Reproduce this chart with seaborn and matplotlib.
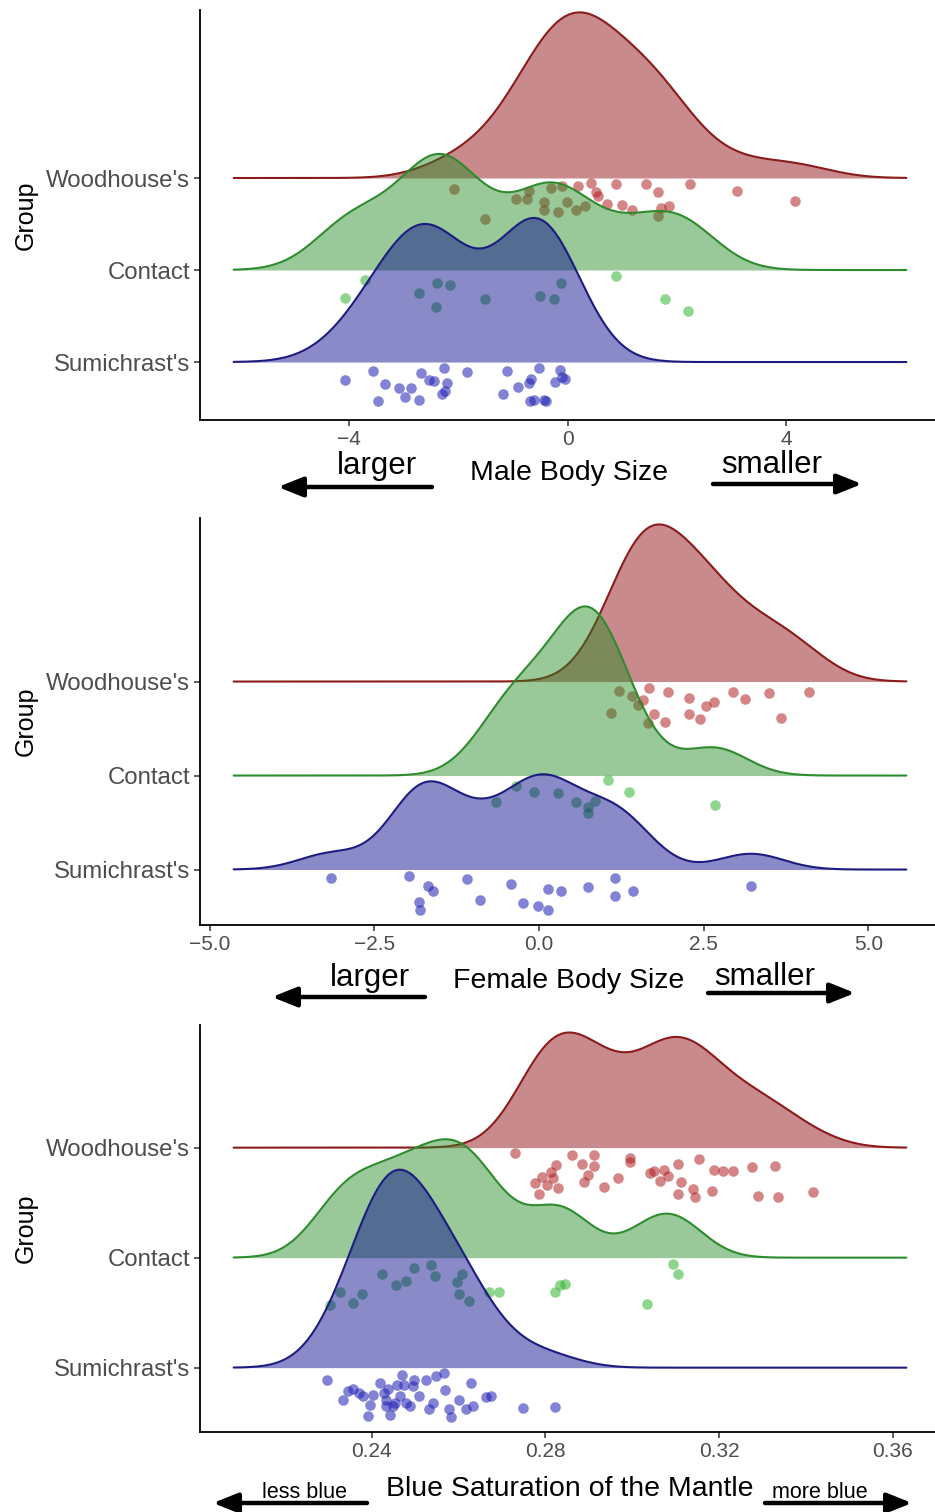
import numpy as np
import pandas as pd
import seaborn as sns
import matplotlib.pyplot as plt
from matplotlib.transforms import Affine2D
from matplotlib.patches import FancyArrowPatch

# groups, bottom to top
groups = ["Sumichrast's", "Contact", "Woodhouse's"]

# ---- panel 1: male body size (x = value, d = jitter depth below ridge) ----
male_wood_x = [-2.09, -1.51, -0.94, -0.71, -0.75, -0.43, -0.43, -0.30, -0.10, -0.18, -0.02, 0.15, 0.19, 0.31,
               0.43, 0.51, 0.55, 0.72, 0.88, 1.00, 1.17, 1.44, 1.66, 1.70, 1.86, 1.66, 2.23, 3.09, 4.17]
male_wood_d = [0.12, 0.45, 0.23, 0.14, 0.23, 0.26, 0.35, 0.11, 0.09, 0.37, 0.26, 0.35, 0.09, 0.30,
               0.05, 0.15, 0.20, 0.28, 0.07, 0.29, 0.35, 0.07, 0.15, 0.33, 0.30, 0.41, 0.06, 0.14, 0.25]
male_cont_x = [-3.72, -4.09, -2.73, -2.39, -2.16, -2.41, -1.52, -0.51, -0.25, -0.13, 0.88, 1.78, 2.20]
male_cont_d = [0.11, 0.30, 0.25, 0.14, 0.16, 0.40, 0.31, 0.28, 0.32, 0.14, 0.07, 0.32, 0.45]
male_sumi_x = [-4.09, -3.57, -3.47, -3.35, -3.09, -2.99, -2.88, -2.73, -2.68, -2.55, -2.45, -2.31, -2.26, -2.21,
               -2.25, -1.85, -1.18, -1.11, -0.92, -0.71, -0.67, -0.53, -0.69, -0.44, -0.24, -0.15, -0.06,
               -0.62, -0.40, -0.10]
male_sumi_d = [0.20, 0.10, 0.42, 0.24, 0.28, 0.38, 0.28, 0.41, 0.12, 0.19, 0.21, 0.35, 0.07, 0.23,
               0.32, 0.11, 0.35, 0.10, 0.27, 0.23, 0.18, 0.07, 0.42, 0.41, 0.22, 0.09, 0.18,
               0.41, 0.42, 0.16]

# ---- panel 2: female body size ----
fem_wood_x = [1.22, 1.09, 1.41, 1.50, 1.67, 1.58, 1.65, 1.74, 1.92, 1.96, 2.27, 2.27, 2.45, 2.53, 2.65,
              2.94, 3.13, 3.50, 3.68, 4.10]
fem_wood_d = [0.10, 0.33, 0.15, 0.25, 0.07, 0.20, 0.44, 0.34, 0.43, 0.11, 0.18, 0.34, 0.40, 0.26, 0.22,
              0.11, 0.19, 0.12, 0.39, 0.11]
fem_cont_x = [-0.35, -0.66, -0.08, 0.29, 0.56, 0.75, 0.75, 0.85, 1.04, 1.36, 2.67]
fem_cont_d = [0.11, 0.28, 0.17, 0.19, 0.28, 0.33, 0.40, 0.27, 0.05, 0.17, 0.31]
fem_sumi_x = [-3.16, -1.97, -1.68, -1.61, -1.83, -1.81, -1.09, -0.90, -0.42, -0.24, -0.02, 0.14, 0.14, 0.34,
              0.75, 1.16, 1.16, 1.42, 3.22]
fem_sumi_d = [0.09, 0.07, 0.18, 0.23, 0.34, 0.43, 0.10, 0.32, 0.15, 0.36, 0.39, 0.43, 0.21, 0.23,
              0.19, 0.09, 0.28, 0.23, 0.18]

# ---- panel 3: blue saturation of the mantle ----
blue_wood_x = [0.2731, 0.2777, 0.2785, 0.2793, 0.2803, 0.2813, 0.2824, 0.2829, 0.2818, 0.2862, 0.2883, 0.2897,
               0.2888, 0.2911, 0.2911, 0.2935, 0.2967, 0.2995, 0.2995, 0.3040, 0.3050, 0.3063, 0.3073, 0.3081,
               0.3104, 0.3104, 0.3111, 0.3139, 0.3145, 0.3153, 0.3183, 0.3189, 0.3209, 0.3232, 0.3276, 0.3289,
               0.3329, 0.3335, 0.3417]
blue_wood_d = [0.05, 0.32, 0.42, 0.27, 0.34, 0.22, 0.16, 0.37, 0.28, 0.07, 0.15, 0.25,
               0.31, 0.07, 0.17, 0.36, 0.28, 0.09, 0.13, 0.23, 0.21, 0.30, 0.20, 0.26,
               0.15, 0.42, 0.31, 0.38, 0.45, 0.10, 0.39, 0.20, 0.21, 0.21, 0.18, 0.44,
               0.17, 0.45, 0.40]
blue_cont_x = [0.2304, 0.2327, 0.2356, 0.2378, 0.2423, 0.2455, 0.2479, 0.2498, 0.2536, 0.2546, 0.2597,
               0.2608, 0.2602, 0.2623, 0.2669, 0.2693, 0.2821, 0.2834, 0.2844, 0.3034, 0.3094, 0.3104]
blue_cont_d = [0.43, 0.31, 0.41, 0.33, 0.15, 0.25, 0.21, 0.09, 0.07, 0.17, 0.22,
               0.15, 0.33, 0.39, 0.31, 0.31, 0.31, 0.25, 0.24, 0.42, 0.06, 0.15]
blue_sumi_x = [0.2296, 0.2335, 0.2356, 0.2371, 0.2392, 0.2397, 0.2402, 0.2418, 0.2428, 0.2433, 0.2443, 0.2438,
               0.2453, 0.2464, 0.2469, 0.2474, 0.2489, 0.2495, 0.2498, 0.2510, 0.2525, 0.2533, 0.2541, 0.2549,
               0.2567, 0.2569, 0.2577, 0.2582, 0.2602, 0.2618, 0.2628, 0.2633, 0.2664, 0.2675, 0.2748, 0.2821,
               0.2345, 0.2381, 0.2448, 0.2479, 0.2433, 0.2459]
blue_sumi_d = [0.11, 0.29, 0.19, 0.23, 0.44, 0.34, 0.25, 0.14, 0.23, 0.35, 0.43, 0.19,
               0.32, 0.26, 0.07, 0.16, 0.35, 0.17, 0.11, 0.26, 0.11, 0.38, 0.32, 0.08,
               0.05, 0.20, 0.38, 0.45, 0.29, 0.38, 0.14, 0.35, 0.27, 0.26, 0.37, 0.36,
               0.21, 0.26, 0.35, 0.32, 0.29, 0.16]

# colours
line_col = {"Woodhouse's": "#8b1a1a", "Contact": "#2e8b2e", "Sumichrast's": "#1c1c80"}
fill_col = {"Woodhouse's": "#8b0008", "Contact": "#228b22", "Sumichrast's": "#00008b"}
pt_col = {"Woodhouse's": "#b22222", "Contact": "#32b432", "Sumichrast's": "#1e1eb4"}

sns.set_theme(style="ticks")
plt.rcParams['font.family'] = ['Liberation Sans', 'DejaVu Sans']

W, H = 935, 1512
fig = plt.figure(figsize=(W / 100, H / 100), dpi=100)


def px(x, y):
    # pixel (top-left origin) -> figure fraction
    return x / W, 1 - y / H


def ridge_panel(ax, data, bw, scale=1.8):
    allx = np.concatenate([data[g][0] for g in groups])
    lo, hi = allx.min() - 3 * bw, allx.max() + 3 * bw
    parts = {}
    for g in groups[::-1]:
        x = np.asarray(data[g][0])
        f = bw / x.std(ddof=1)
        n0 = len(ax.collections)
        sns.kdeplot(x=x, ax=ax, bw_method=f, cut=20, clip=(lo, hi), fill=True,
                    color=fill_col[g], alpha=0.46, linewidth=0)
        fill = ax.collections[n0]
        sns.kdeplot(x=x, ax=ax, bw_method=f, cut=20, clip=(lo, hi),
                    color=line_col[g], linewidth=1.5)
        parts[g] = (fill, ax.lines[-1])
    peak = max(l.get_ydata().max() for _, l in parts.values())
    k = scale / peak
    for i, g in enumerate(groups[::-1]):
        pos = groups.index(g) + 1
        tr = Affine2D().scale(1, k).translate(0, pos) + ax.transData
        fill, line = parts[g]
        fill.set_transform(tr)
        line.set_transform(tr)
        fill.set_zorder(3 + 3 * i)
        line.set_zorder(3.1 + 3 * i)
        sns.scatterplot(x=data[g][0], y=pos - np.asarray(data[g][1]), ax=ax,
                        color=pt_col[g], alpha=0.55, s=58, linewidth=0, zorder=3.2 + 3 * i)
    span = hi - lo
    ax.set_xlim(lo - 0.05 * span, hi + 0.05 * span)


panels = [
    dict(top=10, bottom=420, ylim=(0.37, 4.826), bw=0.677,
         data={"Woodhouse's": (male_wood_x, male_wood_d), "Contact": (male_cont_x, male_cont_d),
               "Sumichrast's": (male_sumi_x, male_sumi_d)},
         ticks=[-4, 0, 4]),
    dict(top=518, bottom=925, ylim=(0.41, 4.74), bw=0.493,
         data={"Woodhouse's": (fem_wood_x, fem_wood_d), "Contact": (fem_cont_x, fem_cont_d),
               "Sumichrast's": (fem_sumi_x, fem_sumi_d)},
         ticks=[-5, -2.5, 0, 2.5, 5]),
    dict(top=1025, bottom=1432, ylim=(0.415, 4.115), bw=0.00713,
         data={"Woodhouse's": (blue_wood_x, blue_wood_d), "Contact": (blue_cont_x, blue_cont_d),
               "Sumichrast's": (blue_sumi_x, blue_sumi_d)},
         ticks=[0.24, 0.28, 0.32, 0.36]),
]

for p in panels:
    ax = fig.add_axes([200 / W, 1 - p['bottom'] / H, 740 / W, (p['bottom'] - p['top']) / H])
    ax.set_facecolor('white')
    ridge_panel(ax, p['data'], p['bw'])
    ax.set_ylim(*p['ylim'])
    ax.set_xticks(p['ticks'])
    ax.set_yticks([1, 2, 3])
    ax.set_yticklabels(groups)
    ax.set_xlabel("")
    ax.set_ylabel("Group", fontsize=18, color='black')
    ax.yaxis.set_label_coords(-0.219, 0.5)
    sns.despine(ax=ax)
    for s in ['left', 'bottom']:
        ax.spines[s].set_linewidth(1.3)
        ax.spines[s].set_color('black')
    ax.tick_params(axis='x', labelsize=15, length=4, width=1.1, pad=3, colors='#333333', labelcolor='#4d4d4d')
    ax.tick_params(axis='y', labelsize=17.3, length=4, width=1.1, pad=3, colors='#333333', labelcolor='#4d4d4d')

# axis titles with direction arrows
labels = [
    ("Male Body Size", (569, 473), ("larger", (377, 466)), ("smaller", (772, 465)), 22.5,
     ((432, 487), (278, 487)), ((713, 484), (862, 484))),
    ("Female Body Size", (569, 981), ("larger", (370, 978)), ("smaller", (765, 977)), 22.5,
     ((425, 997), (272, 997)), ((708, 993), (855, 993))),
    ("Blue Saturation of the Mantle", (570, 1489), ("less blue", (305, 1493)), ("more blue", (820, 1493)), 15.5,
     ((367, 1503), (213, 1503)), ((765, 1503), (912, 1503))),
]
for title, tpos, (lt, lpos), (rt, rpos), side_fs, larrow, rarrow in labels:
    fig.text(*px(*tpos), title, fontsize=20.5, ha='center', va='center', color='black')
    fig.text(*px(*lpos), lt, fontsize=side_fs, ha='center', va='center', color='black')
    fig.text(*px(*rpos), rt, fontsize=side_fs, ha='center', va='center', color='black')
    for a, b in (larrow, rarrow):
        fig.add_artist(FancyArrowPatch(px(*a), px(*b), transform=fig.transFigure,
                                       arrowstyle='-|>,head_length=0.75,head_width=0.3',
                                       mutation_scale=20, lw=3.2, color='black',
                                       shrinkA=0, shrinkB=0))

fig.savefig("out.png", dpi=100, facecolor='white')
